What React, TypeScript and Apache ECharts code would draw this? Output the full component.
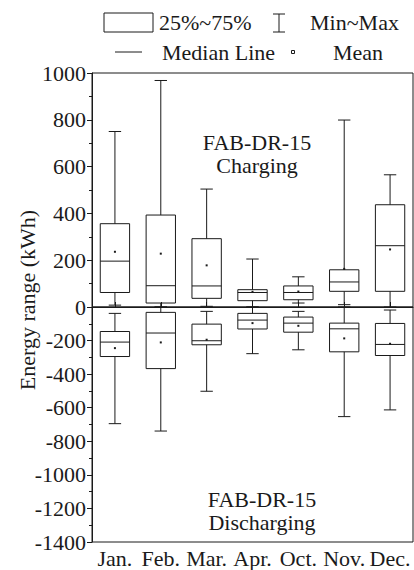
import React, { useEffect, useRef } from 'react';
import * as echarts from 'echarts';

const months = ['Jan.', 'Feb.', 'Mar.', 'Apr.', 'Oct.', 'Nov.', 'Dec.'];

// Charging (top panel)
const chargeMin = [8, 0, 3, 0, 17, 10, 0];
const chargeQ1 = [62, 17, 37, 27, 31, 67, 67];
const chargeMedian = [196, 91, 90, 62, 62, 107, 262];
const chargeQ3 = [356, 393, 292, 74, 90, 159, 437];
const chargeMax = [750, 968, 504, 205, 129, 799, 565];
const chargeMean = [236, 228, 178, 65, 66, 163, 246];

// Discharging (bottom panel)
const dischargeMin = [-695, -739, -502, -278, -255, -653, -613];
const dischargeQ1 = [-295, -367, -225, -131, -150, -267, -289];
const dischargeMedian = [-209, -155, -201, -78, -96, -130, -223];
const dischargeQ3 = [-146, -32, -102, -38, -60, -96, -98];
const dischargeMax = [-38, 0, -26, 0, -26, 0, -18];
const dischargeMean = [-245, -211, -195, -96, -112, -187, -219];

const FONT = 'Liberation Serif';
const FS = 22;
const INK = '#1a1a1a';

const renderBox = (params: any, api: any) => {
  const i = api.value(0);
  const mn = api.coord([i, api.value(1)]);
  const q1 = api.coord([i, api.value(2)]);
  const md = api.coord([i, api.value(3)]);
  const q3 = api.coord([i, api.value(4)]);
  const mx = api.coord([i, api.value(5)]);
  const me = api.coord([i, api.value(6)]);
  const band = api.size([1, 0])[0];
  const bw = band * 0.64;
  const cw = band * 0.27;
  const x = mn[0];
  const ls = { stroke: INK, lineWidth: 1, fill: null };
  const yTop = Math.min(q1[1], q3[1]);
  const yBot = Math.max(q1[1], q3[1]);
  const yHi = Math.min(mn[1], mx[1]);
  const yLo = Math.max(mn[1], mx[1]);
  return {
    type: 'group',
    children: [
      { type: 'line', shape: { x1: x, y1: yHi, x2: x, y2: yTop }, style: ls },
      { type: 'line', shape: { x1: x, y1: yBot, x2: x, y2: yLo }, style: ls },
      { type: 'line', shape: { x1: x - cw / 2, y1: yHi, x2: x + cw / 2, y2: yHi }, style: ls },
      { type: 'line', shape: { x1: x - cw / 2, y1: yLo, x2: x + cw / 2, y2: yLo }, style: ls },
      { type: 'rect', shape: { x: x - bw / 2, y: yTop, width: bw, height: yBot - yTop }, style: { stroke: INK, lineWidth: 1, fill: 'rgba(255,255,255,0)' } },
      { type: 'line', shape: { x1: x - bw / 2, y1: md[1], x2: x + bw / 2, y2: md[1] }, style: ls },
      { type: 'rect', shape: { x: x - 1, y: me[1] - 1, width: 2, height: 2 }, style: { fill: INK } },
    ],
  };
};

const chargeData = months.map((_, i) => [i, chargeMin[i], chargeQ1[i], chargeMedian[i], chargeQ3[i], chargeMax[i], chargeMean[i]]);
const dischargeData = months.map((_, i) => [i, dischargeMin[i], dischargeQ1[i], dischargeMedian[i], dischargeQ3[i], dischargeMax[i], dischargeMean[i]]);

const txt = (text: string, x: number, y: number, align = 'left') => ({
  type: 'text',
  x,
  y,
  style: { text, fontFamily: FONT, fontSize: FS, fill: INK, align, verticalAlign: 'middle' },
});

export default function App() {
  const ref = useRef<HTMLDivElement>(null);
  useEffect(() => {
    if (!ref.current) return;
    const chart = echarts.init(ref.current, undefined, { renderer: 'svg' });
    const yAxisCommon = {
      type: 'value',
      interval: 200,
      splitLine: { show: false },
      axisLine: { show: true, lineStyle: { color: INK, width: 1 } },
      axisTick: { show: true, inside: false, length: 5, lineStyle: { color: INK } },
      minorTick: { show: true, splitNumber: 2, length: 3, lineStyle: { color: INK } },
      axisLabel: { fontFamily: FONT, fontSize: FS, color: INK, margin: 6, formatter: (v: number) => String(v) },
    };
    chart.setOption({
      animation: false,
      grid: [
        { left: 92, right: 1, top: 73, height: 234, show: true, borderColor: INK, borderWidth: 1, backgroundColor: 'transparent' },
        { left: 92, right: 1, top: 307, height: 235, show: true, borderColor: INK, borderWidth: 1, backgroundColor: 'transparent' },
      ],
      xAxis: [
        { type: 'category', gridIndex: 0, data: months, axisLine: { show: false }, axisTick: { show: false }, axisLabel: { show: false } },
        {
          type: 'category', gridIndex: 1, data: months,
          axisLine: { show: true, lineStyle: { color: INK } },
          axisTick: { show: true, inside: true, alignWithLabel: true, length: 5, lineStyle: { color: INK } },
          axisLabel: { fontFamily: FONT, fontSize: FS, color: INK, margin: 5, interval: 0, hideOverlap: false },
        },
      ],
      yAxis: [
        { ...yAxisCommon, gridIndex: 0, min: 0, max: 1000 },
        { ...yAxisCommon, gridIndex: 1, min: -1400, max: 0, axisLabel: { ...yAxisCommon.axisLabel, formatter: (v: number) => (v === 0 ? '' : String(v)) } },
      ],
      series: [
        { type: 'custom', xAxisIndex: 0, yAxisIndex: 0, renderItem: renderBox, data: chargeData, clip: false },
        { type: 'custom', xAxisIndex: 1, yAxisIndex: 1, renderItem: renderBox, data: dischargeData, clip: false },
      ],
      graphic: [
        // legend
        { type: 'rect', shape: { x: 104, y: 13, width: 49, height: 19 }, style: { fill: 'none', stroke: INK, lineWidth: 1 } },
        txt('25%~75%', 159, 22),
        { type: 'line', shape: { x1: 279, y1: 14, x2: 279, y2: 32 }, style: { stroke: INK, lineWidth: 1 } },
        { type: 'line', shape: { x1: 273, y1: 14, x2: 285, y2: 14 }, style: { stroke: INK, lineWidth: 1 } },
        { type: 'line', shape: { x1: 273, y1: 32, x2: 285, y2: 32 }, style: { stroke: INK, lineWidth: 1 } },
        txt('Min~Max', 310, 22),
        { type: 'line', shape: { x1: 115, y1: 52, x2: 142, y2: 52 }, style: { stroke: INK, lineWidth: 1 } },
        txt('Median Line', 162, 52),
        { type: 'rect', shape: { x: 291.5, y: 50.5, width: 3, height: 3 }, style: { fill: 'none', stroke: INK, lineWidth: 1 } },
        txt('Mean', 333, 52),
        // annotations
        txt('FAB-DR-15', 257, 142, 'center'),
        txt('Charging', 257, 165, 'center'),
        txt('FAB-DR-15', 262, 499, 'center'),
        txt('Discharging', 262, 522, 'center'),
        // y axis title
        {
          type: 'text', x: 27, y: 300, rotation: Math.PI / 2,
          style: { text: 'Energy range (kWh)', fontFamily: FONT, fontSize: FS, fill: INK, align: 'center', verticalAlign: 'middle' },
        },
      ],
    });
    return () => chart.dispose();
  }, []);
  return <div ref={ref} style={{ position: 'fixed', left: 0, top: 0, width: 414, height: 570, background: '#fff' }} />;
}
